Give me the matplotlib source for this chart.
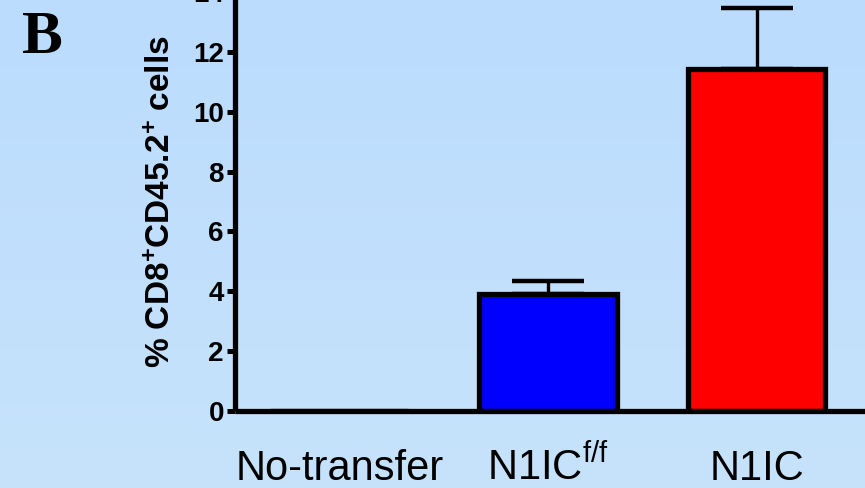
import numpy as np
import matplotlib
matplotlib.use("Agg")
import matplotlib.pyplot as plt
from matplotlib.colors import LinearSegmentedColormap

plt.rcParams['font.family'] = ['Liberation Sans', 'DejaVu Sans']
plt.rcParams['mathtext.fontset'] = 'custom'
plt.rcParams['mathtext.rm'] = 'Liberation Sans'
plt.rcParams['mathtext.it'] = 'Liberation Sans:italic'
plt.rcParams['mathtext.bf'] = 'Liberation Sans:bold'

# groups and measured values (% of cells)
groups = ["No-transfer", r"N1IC$^{\mathrm{f/f}}$", "N1IC"]
means = [0.0, 3.91, 11.44]
sem_up = [0.0, 0.44, 2.01]
bar_colors = ["#0000ff", "#0000ff", "#ff0000"]
yticks = [0, 2, 4, 6, 8, 10, 12, 14]

fig = plt.figure(figsize=(8.65, 4.88), dpi=100)

# soft vertical gradient behind everything
bg = fig.add_axes([0, 0, 1, 1], zorder=-10)
cmap = LinearSegmentedColormap.from_list("bgblue", ["#c7e3fb", "#bbdcfe"])
grad = np.linspace(0, 1, 256).reshape(-1, 1)
bg.imshow(grad, aspect='auto', cmap=cmap, origin='lower', extent=[0, 1, 0, 1])
bg.axis('off')

ax = fig.add_axes([0.2717, 0.1578, 0.7283, 0.8586])
ax.set_facecolor('none')

x = np.arange(len(groups))
ax.bar(x, means, width=0.66, color=bar_colors, edgecolor='black',
       linewidth=3.8, zorder=2)
ax.errorbar(x[1:], means[1:], yerr=[np.zeros(2), sem_up[1:]], fmt='none',
            ecolor='black', elinewidth=2.4, capsize=26, capthick=3.2, zorder=1)

ax.set_xlim(-0.5, 2.52)
ax.set_ylim(0, 14)

for side in ['top', 'right']:
    ax.spines[side].set_visible(False)
for side in ['left', 'bottom']:
    ax.spines[side].set_linewidth(3.8)
    ax.spines[side].set_capstyle('butt')

ax.set_yticks(yticks)
ax.set_yticklabels([str(v) for v in yticks], fontsize=20, fontweight='bold')
ax.tick_params(axis='y', length=6, width=3.6, pad=2)

ax.set_xticks(x)
ax.set_xticklabels(groups, fontsize=30)
ax.tick_params(axis='x', length=0, pad=49.5)
for lab in ax.get_xticklabels():
    lab.set_verticalalignment('baseline')

ax.set_ylabel(r"% CD8$^{\mathbf{+}}$CD45.2$^{\mathbf{+}}$ cells",
              fontsize=24, fontweight='bold', va='center')
ax.yaxis.set_label_coords(-0.117, 0.5)

fig.text(0.025, 0.891, "B", family='Liberation Serif', fontweight='bold',
         fontsize=44, va='baseline', ha='left')

fig.savefig("out.png", dpi=100)
